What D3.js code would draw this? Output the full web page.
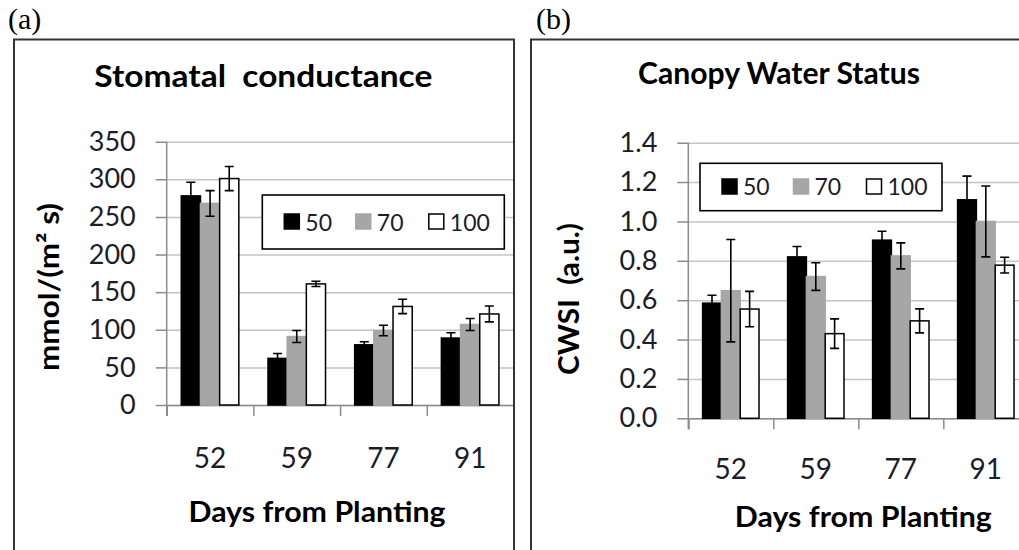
<!DOCTYPE html>
<html>
<head>
<meta charset="utf-8">
<script src="https://cdn.jsdelivr.net/npm/d3@7"></script>
<style>
  body { margin: 0; background: #fff; }
  svg { display: block; }
  text { font-family: Lato, "Open Sans", sans-serif; fill: #1c1c2a; white-space: pre; }
</style>
</head>
<body>
<svg id="chart" width="1019" height="550"></svg>
<script>
// categories / series
const days = ["52", "59", "77", "91"];
const treatments = ["50", "70", "100"];

// (a) stomatal conductance, mmol/(m2 s)
const gsMean50 = [278, 62, 80, 89];
const gsMean70 = [268, 91, 99, 107];
const gsMean100 = [301, 161, 131, 121];
const gsErr50 = [18, 6.5, 4, 7];
const gsErr70 = [17, 8, 7, 8];
const gsErr100 = [16, 3.5, 9.5, 10.5];
const gsTicks = [0, 50, 100, 150, 200, 250, 300, 350];

// (b) CWSI
const cwsiMean50 = [0.585, 0.82, 0.905, 1.11];
const cwsiMean70 = [0.648, 0.72, 0.825, 1.0];
const cwsiMean100 = [0.555, 0.43, 0.495, 0.778];
const cwsiErr50 = [0.04, 0.053, 0.045, 0.12];
const cwsiErr70 = [0.26, 0.07, 0.066, 0.18];
const cwsiErr100 = [0.09, 0.075, 0.061, 0.04];
const cwsiTicks = [0, 0.2, 0.4, 0.6, 0.8, 1.0, 1.2, 1.4];

const fills = {"50": "#000000", "70": "#a6a6a6", "100": "#ffffff"};
const strokes = {"50": "#000000", "70": "#a6a6a6", "100": "#000000"};

const svg = d3.select("#chart");

// 太字ラベル（幅を元図に合わせる）
function boldText(sel, size, width) {
	return sel.style("font-size", size + "px").style("font-weight", "bold").style("fill", "#000")
		.attr("textLength", width).attr("lengthAdjust", "spacingAndGlyphs");
}

// 表示パネルを描く
function drawPanel(p) {
	const g = svg.append("g");

	// panel letter
	svg.append("text")
		.attr("x", p.letterX).attr("y", 29)
		.style("font-family", "'Liberation Serif', serif")
		.style("font-size", "30px")
		.style("fill", "#000")
		.text(p.letter);

	// 枠の内側だけ描画
	const clipId = "clip-" + p.letter.replace(/\W/g, "");
	svg.append("clipPath").attr("id", clipId)
		.append("rect")
		.attr("x", p.frameX + 1).attr("y", 40.5)
		.attr("width", p.frameW - 2).attr("height", 600);
	const inner = g.append("g").attr("clip-path", `url(#${clipId})`);

	const x = d3.scaleBand().domain(days).range([p.x0, p.x0 + 4 * p.bw]);
	const x1 = d3.scaleBand().domain(treatments).range([0, x.bandwidth()]).paddingOuter(0.76);
	const y = d3.scaleLinear().domain([0, p.max]).range([p.y0, p.yTop]);

	// gridlines
	inner.append("g")
		.attr("transform", `translate(${p.x0},0)`)
		.call(d3.axisLeft(y).tickValues(p.ticks).tickSize(-4 * p.bw).tickFormat(""))
		.call(s => s.select(".domain").remove())
		.call(s => s.selectAll("line").attr("stroke", "#c4c4c4").attr("stroke-width", 1.5));

	// y axis
	inner.append("g")
		.attr("transform", `translate(${p.x0},0)`)
		.call(d3.axisLeft(y).tickValues(p.ticks).tickSize(11).tickPadding(20).tickFormat(p.fmt))
		.call(s => s.select(".domain").attr("d", `M0,${p.yTop}V${p.y0 + 11}`).attr("stroke", "#8c8c8c").attr("stroke-width", 1.5))
		.call(s => s.selectAll("line").attr("stroke", "#8c8c8c").attr("stroke-width", 1.5))
		.call(s => s.selectAll("text").style("font-size", "27px").style("font-family", "Lato").attr("fill", "#1c1c2a"));

	// x axis tick marks between categories
	const edges = d3.scaleLinear().domain([0, 4]).range([p.x0, p.x0 + 4 * p.bw]);
	inner.append("g")
		.attr("transform", `translate(0,${p.y0})`)
		.call(d3.axisBottom(edges).tickValues([0, 1, 2, 3, 4]).tickSize(11).tickFormat(""))
		.call(s => s.select(".domain").attr("stroke", "#8c8c8c").attr("stroke-width", 1.5))
		.call(s => s.selectAll("line").attr("stroke", "#8c8c8c").attr("stroke-width", 1.5));

	// x axis labels
	inner.append("g")
		.attr("transform", `translate(0,${p.y0})`)
		.call(d3.axisBottom(x).tickSize(0))
		.call(s => s.select(".domain").remove())
		.call(s => s.selectAll("text").attr("y", p.xLabelOff).attr("dy", 0)
			.style("font-size", "28px").style("font-family", "Lato").attr("fill", "#1c1c2a"));

	// bars
	const rows = treatments.map((t, i) => ({t: t, mean: p.means[i], err: p.errs[i]}));
	rows.forEach(r => {
		const gr = inner.append("g");
		gr.selectAll("rect").data(days).enter()
			.append("rect")
			.attr("x", (d) => x(d) + x1(r.t))
			.attr("y", (d, i) => y(r.mean[i]))
			.attr("width", x1.bandwidth())
			.attr("height", (d, i) => p.y0 - y(r.mean[i]))
			.attr("fill", fills[r.t])
			.attr("stroke", strokes[r.t])
			.attr("stroke-width", 1.5);
	});

	// error bars
	rows.forEach(r => {
		const ge = inner.append("g").attr("stroke", "#000").attr("stroke-width", 1.6).attr("fill", "none");
		ge.selectAll("path").data(days).enter()
			.append("path")
			.attr("d", (d, i) => {
				const cx = x(d) + x1(r.t) + x1.bandwidth() / 2;
				const hi = y(r.mean[i] + r.err[i]);
				const lo = y(r.mean[i] - r.err[i]);
				return `M${cx - 4.5},${hi}H${cx + 4.5}M${cx},${hi}V${lo}M${cx - 4.5},${lo}H${cx + 4.5}`;
			});
	});

	// legend
	const lg = inner.append("g").attr("transform", `translate(${p.legX},${p.legY})`);
	lg.append("rect")
		.attr("width", 242).attr("height", p.legH)
		.attr("fill", "#fff").attr("stroke", "#000").attr("stroke-width", 1.6);
	const legOff = [22, 93.5, 166.5];
	treatments.forEach((t, i) => {
		lg.append("rect")
			.attr("x", legOff[i]).attr("y", p.legH / 2 - 8)
			.attr("width", 15).attr("height", 15)
			.attr("fill", fills[t])
			.attr("stroke", t === "100" ? "#000" : fills[t])
			.attr("stroke-width", 1.5);
		lg.append("text")
			.attr("x", legOff[i] + 21).attr("y", p.legH / 2 + 8.5)
			.style("font-size", "23px")
			.text(t);
	});

	// frame
	svg.append("rect")
		.attr("x", p.frameX).attr("y", 39.5)
		.attr("width", p.frameW).attr("height", 600)
		.attr("fill", "none").attr("stroke", "#333").attr("stroke-width", 2);

	// titles
	svg.append("text")
		.attr("x", p.titleX).attr("y", p.titleY)
		.attr("text-anchor", "middle")
		.call(boldText, 31, p.titleW)
		.text(p.title);

	svg.append("text")
		.attr("x", p.xTitleX).attr("y", p.xTitleY)
		.attr("text-anchor", "middle")
		.call(boldText, 29, 257)
		.text("Days from Planting");

	svg.append("text")
		.attr("transform", `translate(${p.yTitleX},${p.yTitleY}) rotate(-90)`)
		.attr("text-anchor", "middle")
		.attr("dy", "0.35em")
		.call(boldText, 28, p.yTitleW)
		.text(p.yTitle);
}

drawPanel({
	letter: "(a)", letterX: 8,
	frameX: 14, frameW: 500,
	x0: 166.7, bw: 86.7, y0: 405, yTop: 141.7, max: 350,
	ticks: gsTicks, fmt: d3.format("d"),
	means: [gsMean50, gsMean70, gsMean100],
	errs: [gsErr50, gsErr70, gsErr100],
	xLabelOff: 63,
	legX: 262.3, legY: 195, legH: 54,
	title: "Stomatal  conductance", titleX: 263.3, titleY: 87.3, titleW: 338,
	xTitleX: 317, xTitleY: 521.5,
	yTitle: "mmol/(m² s)", yTitleX: 49, yTitleY: 287, yTitleW: 168
});

drawPanel({
	letter: "(b)", letterX: 536,
	frameX: 531, frameW: 600,
	x0: 688.3, bw: 85, y0: 418.3, yTop: 142.7, max: 1.4,
	ticks: cwsiTicks, fmt: d3.format(".1f"),
	means: [cwsiMean50, cwsiMean70, cwsiMean100],
	errs: [cwsiErr50, cwsiErr70, cwsiErr100],
	xLabelOff: 61,
	legX: 700, legY: 163.3, legH: 47.4,
	title: "Canopy Water Status", titleX: 779, titleY: 83.5, titleW: 282,
	xTitleX: 863.3, xTitleY: 527.3,
	yTitle: "CWSI  (a.u.)", yTitleX: 569, yTitleY: 299, yTitleW: 152
});
</script>
</body>
</html>
